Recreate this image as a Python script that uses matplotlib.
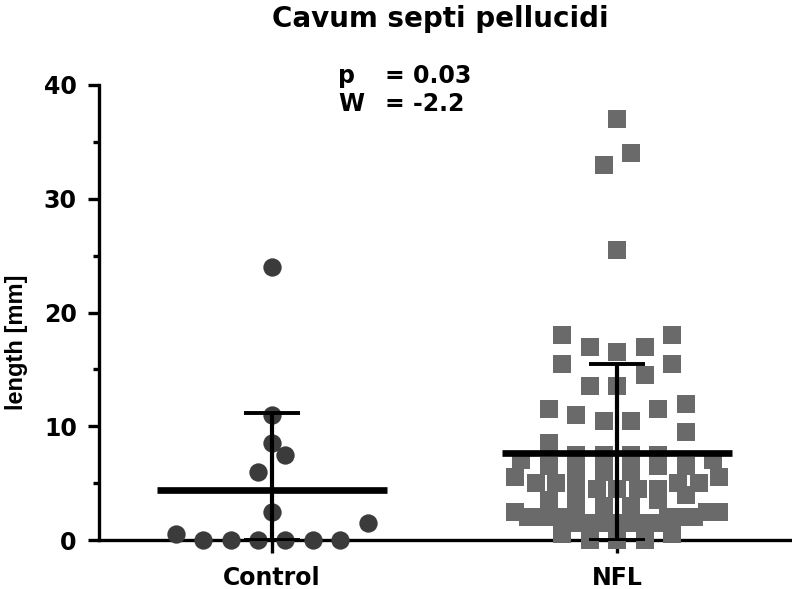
import numpy as np
import matplotlib
matplotlib.use("Agg")
import matplotlib.pyplot as plt

# data (mm)
groups = ["Control", "NFL"]
control = [24, 11, 8.5, 7.5, 6, 2.5, 1.5, 0.5, 0, 0, 0, 0, 0, 0]
nfl = [37, 34, 33, 25.5, 18, 18, 17, 17, 16.5, 15.5, 15.5, 14.5, 13.5, 13.5,
       12, 11.5, 11.5, 11, 10.5, 10.5, 9.5, 8.5, 7.5, 7.5, 7.5, 7.5,
       7, 7, 6.5, 6.5, 6.5, 6, 6, 6, 5.5, 5.5, 5, 5, 5, 5,
       4.5, 4.5, 4.5, 4.5, 4.5, 4, 3.5, 3.5, 3, 3, 3,
       2.5, 2.5, 2.5, 2, 2, 2, 2, 2, 2, 2, 1.5, 1.5, 1.5, 1.5, 1.5, 1.5, 1.5,
       0.5, 0.5, 0, 0, 0]
stats_text = [("p", "= 0.03"), ("W", "= -2.2")]

W, H, DPI = 792, 589, 100
fig = plt.figure(figsize=(W / DPI, H / DPI), dpi=DPI)
ax = fig.add_axes([99 / W, 49 / H, 691 / W, 455 / H])
ax.set_xlim(0.5, 2.5)
ax.set_ylim(0, 40)

x_px = 691 / 2.0   # pixels per x unit


def binned_offsets(vals, bin_h, origin, step=27.4, max_w=204, crowd=8):
    # prism-like scatter: points in the same value bin sit side by side,
    # lowest value in the middle; crowded bins are halved and squeezed
    vals = np.asarray(vals, float)
    offs = np.zeros(len(vals))
    bins = np.floor((vals - origin) / bin_h)
    rows = []
    for b in np.unique(bins):
        idx = np.where(bins == b)[0]
        if len(idx) > crowd:
            sub = np.floor((vals[idx] - origin) / (bin_h / 2))
            rows += [idx[sub == s] for s in np.unique(sub)]
        else:
            rows.append(idx)
    for idx in rows:
        idx = idx[np.argsort(vals[idx], kind="stable")]
        n = len(idx)
        s = step if n < 2 else min(step, max_w / (n - 1))
        slots = sorted(np.arange(n) - (n - 1) / 2, key=lambda t: (abs(t), t))
        offs[idx] = np.array(slots) * s
    return offs / x_px


layout = [(2.0, 0.0), (3.0, 1.25)]
styles = [dict(marker="o", color="#3b3b3b"), dict(marker="s", color="#6a6a6a")]
for pos, vals, st, (bh, org) in zip([1, 2], [control, nfl], styles, layout):
    vals = np.asarray(vals, float)
    xs = pos + binned_offsets(vals, bh, org)
    ax.plot(xs, vals, linestyle="none", marker=st["marker"], markersize=13.2,
            markerfacecolor=st["color"], markeredgewidth=0, clip_on=False, zorder=3)
    m, sd = vals.mean(), vals.std(ddof=1)
    ax.plot([pos - 0.333, pos + 0.333], [m, m], color="black", lw=4.8,
            solid_capstyle="butt", zorder=5)
    ax.errorbar([pos], [m], yerr=[[min(sd, m)], [sd]], fmt="none", ecolor="black",
                elinewidth=3.0, capsize=20, capthick=2.8, zorder=5)

for side in ["top", "right"]:
    ax.spines[side].set_visible(False)
for side in ["left", "bottom"]:
    ax.spines[side].set_linewidth(2.4)

ax.set_yticks([0, 10, 20, 30, 40])
ax.set_yticks([5, 15, 25, 35], minor=True)
ax.set_xticks([1, 2])
ax.set_xticklabels(groups)
ax.tick_params(axis="y", which="major", length=8, width=2.4, pad=8, labelsize=17)
ax.tick_params(axis="y", which="minor", length=4, width=2.4)
ax.tick_params(axis="x", which="major", length=9.5, width=2.4, pad=9, labelsize=17)
for lab in ax.get_xticklabels() + ax.get_yticklabels():
    lab.set_fontweight("bold")

ax.set_ylabel("length [mm]", fontsize=17, fontweight="bold",
              family="Liberation Sans", labelpad=11, y=0.435)

fig.text(440 / W, 1 - 27 / H, "Cavum septi pellucidi", ha="center", va="baseline",
         fontsize=20, fontweight="bold")
for row, (lhs, rhs) in enumerate(stats_text):
    yb = 1 - (83 + 28 * row) / H
    fig.text(338 / W, yb, lhs, ha="left", va="baseline", fontsize=17, fontweight="bold")
    fig.text(385 / W, yb, rhs, ha="left", va="baseline", fontsize=17, fontweight="bold")

fig.savefig("out.png", dpi=DPI)
